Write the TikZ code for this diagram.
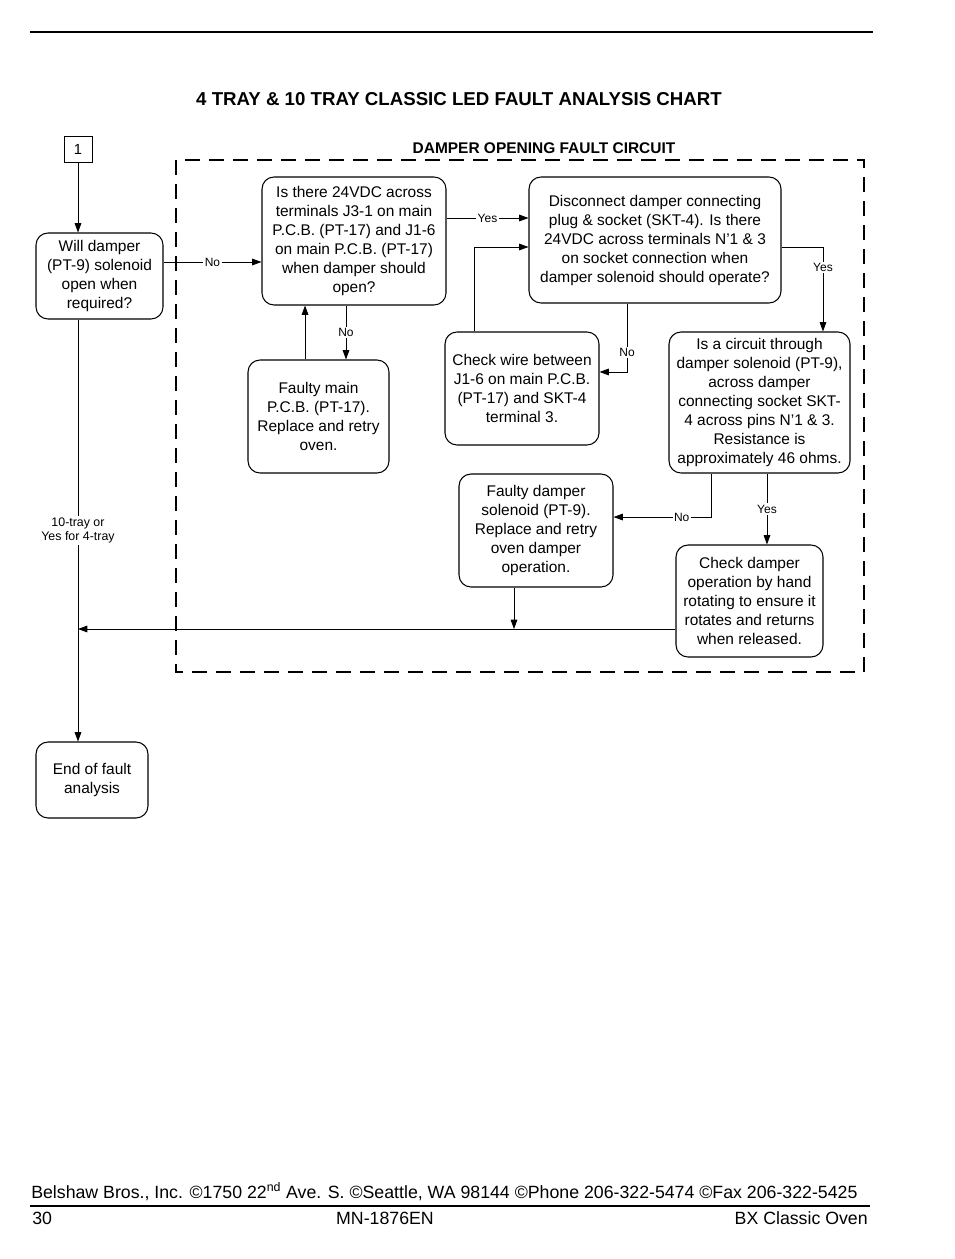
\documentclass[tikz,border=0pt]{standalone}
\usepackage{fontspec}
\setmainfont{Liberation Sans}
\usetikzlibrary{arrows.meta,positioning,calc}

\begin{document}
\begin{tikzpicture}[
        x=0.75pt, y=-0.75pt,
        >={Triangle[length=7pt,width=5pt]},
        box/.style={
            rectangle,
            rounded corners=9pt,
            draw=black,
            line width=0.8pt,
            align=center,
            inner sep=2pt,
            font=\fontsize{11.6}{14.25}\selectfont
        },
        link/.style={line width=0.6pt},
        lbl/.style={fill=white, inner sep=1pt, font=\fontsize{9}{10.5}\selectfont},
        circuitframe/.style={line width=2.2pt, dash pattern=on 11pt off 7pt},
        footer/.style={inner sep=0pt, font=\fontsize{13.3}{15}\selectfont},
    ]

    \useasboundingbox (0,0) rectangle (954,1259);

    % header
    \draw[line width=1.5pt] (30,32) -- (873,32);
    \node[font=\bfseries\fontsize{14}{16}\selectfont] (title) at (459,99) {4 TRAY \& 10 TRAY CLASSIC LED FAULT ANALYSIS CHART};
    \node[font=\bfseries\fontsize{11.6}{13}\selectfont] (subtitle) at (544,148) {DAMPER OPENING FAULT CIRCUIT};
    \draw[circuitframe] (176,160) rectangle (864,672);

    % boxes
    \node[draw, line width=0.6pt, minimum width=21pt, minimum height=19.5pt, font=\fontsize{11}{13}\selectfont] (one) at (78,149) {1};
    \node[box, minimum width=95.25pt, minimum height=64.5pt] (will) at (99.5,276) {Will damper\\(PT-9) solenoid\\open when\\required?};
    \node[box, minimum width=138pt, minimum height=96pt] (pcbvolt) at (354,241) {Is there 24VDC across\\terminals J3-1 on main\\P.C.B. (PT-17) and J1-6\\on main P.C.B. (PT-17)\\when damper should\\open?};
    \node[box, minimum width=189pt, minimum height=94.5pt] (socket) at (655,240) {Disconnect damper connecting\\plug \& socket (SKT-4). Is there\\24VDC across terminals N'1 \& 3\\on socket connection when\\damper solenoid should operate?};
    \node[box, minimum width=105.75pt, minimum height=84.75pt] (pcbfault) at (318.5,416.5) {Faulty main\\P.C.B. (PT-17).\\Replace and retry\\oven.};
    \node[box, minimum width=115.5pt, minimum height=84.75pt] (wire) at (522,388.5) {Check wire between\\J1-6 on main P.C.B.\\(PT-17) and SKT-4\\terminal 3.};
    \node[box, minimum width=135.75pt, minimum height=105.75pt] (resist) at (759.5,402.5) {Is a circuit through\\damper solenoid (PT-9),\\across damper\\connecting socket SKT-\\4 across pins N'1 \& 3.\\Resistance is\\approximately 46 ohms.};
    \node[box, minimum width=115.5pt, minimum height=84.75pt] (solenoid) at (536,530.5) {Faulty damper\\solenoid (PT-9).\\Replace and retry\\oven damper\\operation.};
    \node[box, minimum width=110.25pt, minimum height=84pt] (hand) at (749.5,601) {Check damper\\operation by hand\\rotating to ensure it\\rotates and returns\\when released.};
    \node[box, minimum width=84pt, minimum height=57pt] (finish) at (92,780) {End of fault\\analysis};

    % connectors
    \draw[link,->] (one.south) -- (one.south |- will.north);
    \draw[link,->] ([yshift=10.5pt]will.east) -- ([yshift=10.5pt]will.east -| pcbvolt.west) node[lbl,midway] {No};
    \draw[link,->] ([yshift=17.25pt]pcbvolt.east) -- ([yshift=17.25pt]pcbvolt.east -| socket.west) node[lbl,midway] {Yes};
    \draw[link,->] ([xshift=-6pt]pcbvolt.south) -- ([xshift=-6pt]pcbvolt.south |- pcbfault.north) node[lbl,midway] {No};
    \draw[link,->] ([xshift=-10.1pt]pcbfault.north) -- ([xshift=-10.1pt]pcbfault.north |- pcbvolt.south);
    \draw[link,->] ([yshift=-5.25pt]socket.east) -| ([xshift=47.6pt]resist.north) node[lbl,pos=0.62] {Yes};
    \draw[link,->] ([xshift=-21pt]socket.south) |- ([yshift=12.4pt]wire.east) node[lbl,pos=0.36] {No};
    \draw[link,->] ([xshift=-36pt]wire.north) |- ([yshift=-5.25pt]socket.west);
    \draw[link,->] ([xshift=-36.4pt]resist.south) |- ([yshift=10.1pt]solenoid.east) node[lbl,pos=0.65] {No};
    \draw[link,->] ([xshift=5.6pt]resist.south) -- ([xshift=5.6pt]resist.south |- hand.north) node[lbl,midway] {Yes};

    \coordinate (back) at ([yshift=-21pt]hand.west);
    \coordinate (dropout) at ([xshift=-16.5pt]solenoid.south);
    \draw[link,->] (dropout) -- (dropout |- back);
    \draw[link,->] (back) -- (back -| one.south);
    \draw[link,->] (one.south |- will.south) -- (one.south |- finish.north)
        node[lbl, midway, align=center, font=\fontsize{9.3}{11}\selectfont] {10-tray or\\Yes for 4-tray};

    % footer
    \node[footer, anchor=west] (address) at (31,1192) {Belshaw Bros., Inc. ©1750 22\textsuperscript{nd} Ave. S. ©Seattle, WA 98144 ©Phone 206-322-5474 ©Fax 206-322-5425};
    \draw[line width=1.2pt] (30,1206) -- (870,1206);
    \node[footer, anchor=west] (page) at (32,1218) {30};
    \node[footer] (manual) at (385,1218) {MN-1876EN};
    \node[footer, anchor=east] (product) at (868,1218) {BX Classic Oven};
\end{tikzpicture}
\end{document}
